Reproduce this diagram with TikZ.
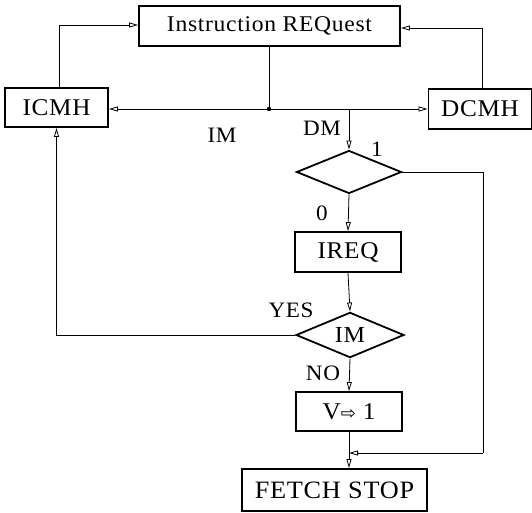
\documentclass[tikz,border=0pt]{standalone}
\usepackage{fontspec}
\setmainfont{Liberation Serif}[FakeStretch=1.05, LetterSpace=3]
\newfontfamily\symfont{DejaVu Sans}
\usetikzlibrary{shapes.geometric,arrows.meta}
\begin{document}
\begin{tikzpicture}[x=1pt,y=-1pt,
  box/.style={draw, line width=1.8pt, rectangle, inner sep=0pt, font=\fontsize{24}{26}\selectfont},
  decide/.style={draw, line width=1.8pt, diamond, inner sep=0pt, font=\fontsize{23}{26}\selectfont},
  lbl/.style={inner sep=0pt, font=\fontsize{22}{24}\selectfont},
  flow/.style={line width=0.8pt, -{Triangle[open,length=9pt,width=5pt,line width=0.8pt]}},
  link/.style={line width=0.8pt}]
\useasboundingbox (0,0) rectangle (532,513);

% boxes and decisions
\node[box, minimum width=261pt, minimum height=40pt, font=\fontsize{22.5}{24}\selectfont] (req) at (269.5,26) {Instruction REQuest};
\node[box, minimum width=103pt, minimum height=39pt] (icmh) at (56.5,107.5) {ICMH};
\node[box, minimum width=103pt, minimum height=40pt] (dcmh) at (480,109) {DCMH};
\node[decide, minimum width=105pt, minimum height=43pt] (d1) at (349,172) {};
\node[box, minimum width=106pt, minimum height=40pt] (ireq) at (348,252) {IREQ};
\node[decide, minimum width=108pt, minimum height=43pt] (dim) at (350,335) {IM};
\node[box, minimum width=106pt, minimum height=39pt] (vset) at (349,411.5) {V{\symfont\fontsize{18}{20}\selectfont ⇨} 1};
\node[box, minimum width=185pt, minimum height=42pt, font=\fontsize{25}{27}\selectfont] (fetch) at (334.5,490) {FETCH STOP};

% branch point under the request box
\fill (269,109) circle (2.2pt) coordinate (split);
\coordinate (dm) at (349,109);
\coordinate (merge) at (349,453);
\coordinate (rt) at (483,172);
\coordinate (rb) at (483,453);

% connectors
\draw[link] (req.south -| split) -- (split);
\draw[flow] (split) -- (icmh.east |- split);
\draw[flow] (split) -- (dcmh.west |- split);
\draw[flow] (dm) -- (d1.north);
\draw[flow] (icmh.north -| 59,0) |- (req.west |- 0,25);
\draw[flow] (dcmh.north -| 482,0) |- (req.east |- 0,28);
\draw[flow] (d1.south) -- (ireq.north);
\draw[flow] (ireq.south) -- (dim.north);
\draw[flow] (dim.south) -- (vset.north);
\draw[flow] (vset.south) -- (vset.south |- fetch.north);
\draw[flow] (dim.west) -| (icmh.south);
\draw[link] (d1.east) -- (rt) -- (rb);
\draw[flow] (rb) -- (merge);

% branch labels
\node[lbl] (lim) at (222,135) {IM};
\node[lbl] (ldm) at (322,128) {DM};
\node[lbl] (lone) at (377,149) {1};
\node[lbl] (lzero) at (322,213) {0};
\node[lbl] (lyes) at (291,310) {YES};
\node[lbl] (lno) at (323,373) {NO};
\end{tikzpicture}
\end{document}
